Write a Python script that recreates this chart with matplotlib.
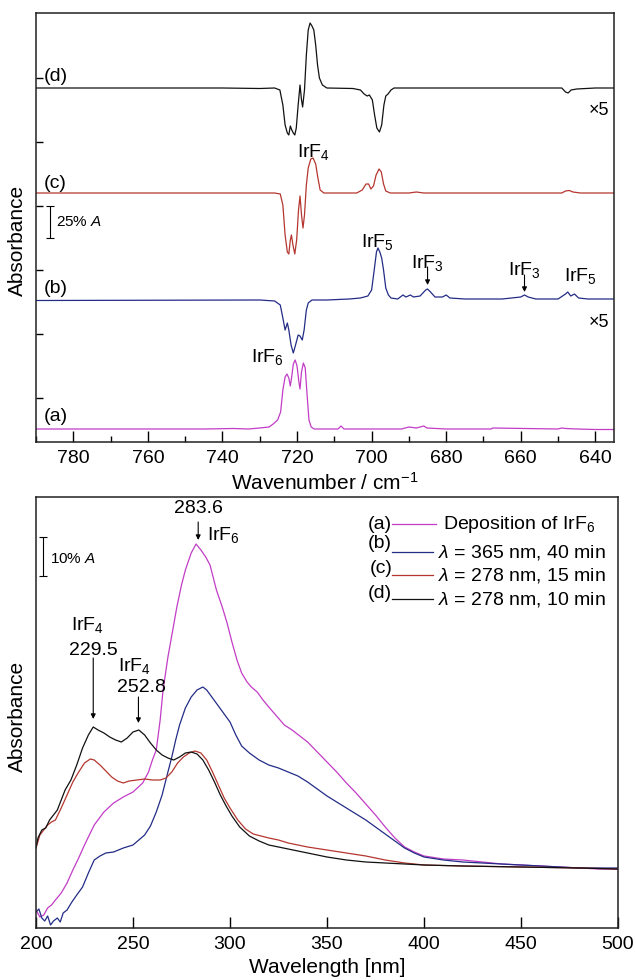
import numpy as np
import matplotlib
matplotlib.use("Agg")
import matplotlib.pyplot as plt
from matplotlib.ticker import MultipleLocator

plt.rcParams['font.family'] = ['Liberation Sans', 'DejaVu Sans']
plt.rcParams['mathtext.fontset'] = 'custom'
plt.rcParams['mathtext.rm'] = 'Liberation Sans'
plt.rcParams['mathtext.it'] = 'Liberation Sans:italic'
plt.rcParams['mathtext.bf'] = 'Liberation Sans:bold'

# ---- IR spectra (top), values relative to each trace baseline, arb. units (32 = 25% A)
wn_a = [790, 745, 737, 733, 730, 727.5, 726.4, 725.2, 724.4, 723.8, 723.2, 722.7, 722.2, 721.8,
        721.4, 721.0, 720.5, 720.0, 719.5, 719.2, 718.8, 718.3, 717.8, 717.3, 716.8, 716.2, 715.4,
        709, 708.2, 707.4, 692, 690, 688, 686, 685.2, 680, 668, 667.5, 650, 649, 648, 645, 640, 635]
ir_a = [0, 0, 0.5, 0, 1, 2, 5, 9, 17, 39, 52, 55, 51, 43,
        53, 65, 69, 63, 47, 40, 57, 66, 61, 34, 9, 2, 0,
        0, 3, 0, 0, 2, 1, 3, 1, 0, 0, 1, 0, 1, 0.5, 0, -0.5, -0.5]

wn_b = [790, 730, 726, 724.5, 723.8, 723.2, 722.6, 722.2, 721.6, 721.0, 720.4, 719.7, 719.2,
        718.6, 718.1, 717.5, 717.0, 716, 712, 706, 703, 701, 700, 699.3, 698.7, 698.3, 697.8,
        697.3, 696.8, 696.2, 695.5, 694.8, 693, 691.6, 690.8, 689.6, 688.8, 687, 685.5, 685,
        684.2, 683, 681, 680, 679, 675, 665, 660, 659, 658, 656, 650, 648, 647.4, 646.6, 645.6,
        644.5, 642, 635]
ir_b = [-0.5, 0, -1, -5, -18, -30, -23, -30, -45, -53, -45, -35, -36,
        -40, -30, -10, -3, 0, 0, 1, 2, 4, 10, 30, 48, 52, 48,
        42, 30, 12, 5, 2, 1, 5, 3, 5, 3, 4, 10, 11,
        8, 3, 3, 5, 2, 1, 1, 3, 5, 3, 1, 1, 6, 8, 4, 6,
        2, 1, 1]

wn_c = [790, 726, 724.5, 723.8, 723.2, 722.6, 722.2, 721.8, 721.5, 721.1, 720.6, 720.1, 719.6,
        719.2, 718.8, 718.4, 718.0, 717.5, 717.0, 716.3, 715.7, 715.0, 714.4, 713.8, 712.8, 704,
        702.5, 701.5, 700.8, 700.2, 699.5, 698.8, 698.0, 697.4, 696.8, 696.2, 695, 690, 688, 686,
        649, 648, 647, 646, 644, 635]
ir_c = [0, 0, -1, -12, -42, -59, -61, -47, -42, -52, -61, -47, -17,
        -3, -22, -35, -22, 8, 25, 34, 35, 29, 15, 3, 0, 0,
        3, 9, 9, 4, 7, 18, 24, 21, 9, 2, 0, 0, 1, 0,
        0, 2, 2.5, 1, 0, 0]

wn_d = [790, 760, 740, 730, 726, 724.6, 723.8, 723.2, 722.6, 722.2, 721.8, 721.4, 721.0, 720.6,
        720.2, 719.7, 719.2, 718.8, 718.5, 718.0, 717.5, 717.0, 716.5, 716.0, 715.5, 715.0, 714.5,
        714.0, 713.2, 712, 705, 703, 702, 701.2, 700.6, 699.8, 699.2, 698.6, 697.9, 697.3, 696.7,
        696.2, 695.6, 694.8, 694, 680, 660, 649, 648, 647.3, 646.5, 645, 640, 635]
ir_d = [0, 0, 0, -0.5, 0, -2, -17, -37, -45, -47, -38, -42, -45, -47,
        -40, -17, 3, -12, -19, -2, 33, 58, 65, 62, 58, 43, 23,
        10, 3, 0, -0.5, -2, -6, -8, -7, -12, -27, -40, -44, -37, -17,
        -8, -6, -2, 0, 0, 0, 0, -4, -5, -2, -1, 0, 0]

ir_offsets = {'a': 13, 'b': 142, 'c': 249, 'd': 354}

# ---- UV/Vis spectra (bottom), arb. units (39 = 10% A)
wl_a = [200, 202, 204, 206, 208, 210, 213, 216, 219, 222, 225, 230, 235, 240, 245, 250, 255, 258,
        260, 262, 264, 265.5, 268, 270.5, 272.6, 275, 277, 280, 282.5, 285, 287.5, 289.7, 293,
        296, 298.5, 301, 303.6, 306, 308.8, 311, 314, 317, 320, 324, 328, 332, 336, 340, 345,
        350, 355, 360, 365, 370, 375, 380, 385, 390, 395, 400, 410, 420, 430, 440, 450, 460,
        470, 480, 490, 500]
uv_a = [18, 11, 13, 20, 23, 28, 35, 45, 58, 70, 83, 103, 116, 125, 131, 136, 145, 156,
        168, 178, 208, 238, 271, 298, 321, 343, 358, 375, 384, 378, 371, 363, 338,
        321, 305, 286, 268, 255, 246, 241, 236, 228, 221, 212, 203, 198, 192, 186, 176,
        166, 156, 145, 135, 124, 113, 101, 90, 81, 76, 72, 69, 68, 66, 64, 63, 62,
        61, 60, 59, 59]

wl_b = [200, 201.5, 203, 204.5, 206, 207.5, 209, 211, 212.5, 214, 216, 218.5, 221, 224, 227,
        230, 233, 236, 240, 245, 250, 253, 256, 259, 262, 265, 268, 270, 272, 274, 277, 280,
        283, 286, 288, 291, 294, 297, 300, 303, 306, 310, 315, 320, 325, 330, 335, 340, 345,
        350, 355, 360, 365, 370, 375, 380, 385, 390, 395, 400, 410, 420, 430, 440, 450, 460,
        470, 480, 490, 500]
uv_b = [16, 19, 10, 7, 12, 3, 7, 10, 6, 15, 18, 26, 33, 41, 55,
        68, 72, 75, 76, 80, 83, 88, 93, 102, 116, 133, 156, 171, 188, 203, 220, 231,
        238, 241, 238, 230, 222, 214, 206, 193, 182, 175, 168, 163, 160, 156, 152, 146, 139,
        132, 126, 120, 114, 108, 101, 94, 87, 80, 75, 71, 68, 66, 65, 64, 63, 62,
        61, 60, 60, 60]

wl_c = [200, 202, 204, 206, 208, 210, 213, 216, 219, 222, 225, 228, 230, 233, 236, 239, 242,
        245, 248, 252, 256, 260, 264, 267, 270, 273, 276, 279, 282, 285, 288, 291, 294, 297,
        300, 304, 308, 312, 316, 320, 325, 330, 340, 350, 360, 370, 380, 390, 400, 420, 450,
        480, 500]
uv_c = [80, 93, 98, 103, 106, 108, 120, 133, 146, 156, 165, 169, 168, 163, 157, 151, 147,
        145, 147, 148, 149, 148, 148, 150, 156, 165, 171, 175, 177, 175, 168, 156, 143, 130,
        120, 108, 99, 94, 92, 90, 88, 85, 81, 78, 75, 72, 68, 65, 63, 62, 61,
        60, 59]

wl_d = [200, 201, 203, 205, 207, 209, 211, 213, 215, 218, 221, 224, 227, 229.5, 232, 235, 238,
        241, 244, 247, 250, 253, 256, 259, 262, 265, 268, 271, 274, 277, 280, 283, 286, 289,
        292, 295, 298, 301, 305, 310, 315, 320, 330, 340, 350, 360, 370, 380, 390, 400, 420,
        450, 480, 500]
uv_d = [80, 90, 98, 100, 108, 113, 118, 128, 138, 148, 163, 180, 193, 201, 198, 195, 191,
        188, 186, 190, 196, 198, 193, 185, 178, 173, 170, 168, 171, 175, 176, 174, 168, 158,
        146, 133, 122, 112, 101, 92, 87, 83, 79, 75, 71, 68, 66, 65, 64, 63, 62,
        61, 60, 59]

col = {'a': '#c23cc6', 'b': '#232c86', 'c': '#b5362f', 'd': '#111111'}
legend_text = {'a': 'Deposition of IrF$_6$',
               'b': r'$\lambda$ = 365 nm, 40 min',
               'c': r'$\lambda$ = 278 nm, 15 min',
               'd': r'$\lambda$ = 278 nm, 10 min'}

W, H = 636, 980
fig = plt.figure(figsize=(W / 100, H / 100), dpi=100)
ax1 = fig.add_axes([36 / W, 1 - 442 / H, 578 / W, 429 / H])
ax2 = fig.add_axes([36 / W, 1 - 928 / H, 582 / W, 431 / H])

for ax in (ax1, ax2):
    for s in ax.spines.values():
        s.set_linewidth(1.1)
        s.set_color('#222222')

# ---------------- top panel
for key, wn, v in (('d', wn_d, ir_d), ('c', wn_c, ir_c), ('b', wn_b, ir_b), ('a', wn_a, ir_a)):
    ax1.plot(wn, np.array(v) + ir_offsets[key], color=col[key], lw=0.9)

ax1.set_xlim(790, 635)
ax1.set_ylim(0, 429)
ax1.xaxis.set_major_locator(MultipleLocator(20))
ax1.xaxis.set_minor_locator(MultipleLocator(10))
ax1.set_yticks(44 + 64 * np.arange(6))
ax1.tick_params(axis='x', which='major', direction='in', length=8, width=1, labelsize=14, pad=6)
ax1.tick_params(axis='x', which='minor', direction='in', length=4, width=1)
ax1.tick_params(axis='y', direction='in', length=5, width=1, labelleft=False)
ax1.set_xlabel('Wavenumber / cm$^{-1}$', fontsize=15, labelpad=3)
ax1.set_ylabel('Absorbance', fontsize=15)
ax1.yaxis.set_label_coords(-0.016, 0.47)

fs = 14
for key, y in (('d', 366), ('c', 259), ('b', 154), ('a', 26)):
    ax1.text(788, y, '(%s)' % key, fontsize=fs, ha='left', va='center')

ax1.text(715.7, 290, 'IrF$_4$', fontsize=fs, ha='center', va='center')
ax1.text(698.3, 200, 'IrF$_5$', fontsize=fs, ha='center', va='center')
ax1.text(728, 85, 'IrF$_6$', fontsize=fs, ha='center', va='center')
ax1.text(685, 179, 'IrF$_3$', fontsize=fs, ha='center', va='center')
ax1.text(659, 172, 'IrF$_3$', fontsize=fs, ha='center', va='center')
ax1.text(644, 166, 'IrF$_5$', fontsize=fs, ha='center', va='center')
arr = dict(arrowstyle='-|>', color='k', lw=0.8, mutation_scale=7, shrinkA=0, shrinkB=0)
ax1.annotate('', xy=(685, 157), xytext=(685, 175), arrowprops=arr)
ax1.annotate('', xy=(659, 150), xytext=(659, 167), arrowprops=arr)
ax1.text(636.3, 332, '×5', fontsize=13, ha='right', va='center')
ax1.text(636.3, 120, '×5', fontsize=13, ha='right', va='center')

# 25% A scale bar
ax1.errorbar([786.2], [220], yerr=[16], color='k', lw=0.8, capsize=3, capthick=0.8)
ax1.text(784.6, 220, '25% $A$', fontsize=11, ha='left', va='center')

# ---------------- bottom panel
for key, wl, v in (('a', wl_a, uv_a), ('b', wl_b, uv_b), ('c', wl_c, uv_c), ('d', wl_d, uv_d)):
    ax2.plot(wl, v, color=col[key], lw=0.9)

ax2.set_xlim(200, 500)
ax2.set_ylim(0, 431)
ax2.xaxis.set_major_locator(MultipleLocator(50))
ax2.set_yticks([])
ax2.tick_params(axis='x', direction='in', length=8, width=1, labelsize=14, pad=6)
ax2.set_xlabel('Wavelength [nm]', fontsize=15, labelpad=3)
ax2.set_ylabel('Absorbance', fontsize=15)
ax2.yaxis.set_label_coords(-0.016, 0.49)

ax2.text(283.5, 420, '283.6', fontsize=fs, ha='center', va='center')
ax2.annotate('', xy=(283.6, 388), xytext=(283.6, 406), arrowprops=arr)
ax2.text(288.1, 393, 'IrF$_6$', fontsize=fs, ha='left', va='center')
ax2.text(226.8, 303, 'IrF$_4$', fontsize=fs, ha='center', va='center')
ax2.text(229.4, 278, '229.5', fontsize=fs, ha='center', va='center')
ax2.annotate('', xy=(229.5, 209), xytext=(229.5, 270), arrowprops=arr)
ax2.text(251, 262, 'IrF$_4$', fontsize=fs, ha='center', va='center')
ax2.text(254.6, 241, '252.8', fontsize=fs, ha='center', va='center')
ax2.annotate('', xy=(252.8, 205), xytext=(252.8, 231), arrowprops=arr)

ax2.errorbar([203.6], [371.5], yerr=[19.5], color='k', lw=0.8, capsize=3, capthick=0.8)
ax2.text(207.2, 369, '10% $A$', fontsize=11, ha='left', va='center')

# legend, drawn row by row so the (a)...(d) tags sit left of the line keys
rows = {'a': (0.937, 0.937, 0.699, 0.687), 'b': (0.893, 0.872, 0.691, 0.682),
        'c': (0.835, 0.819, 0.691, 0.682), 'd': (0.777, 0.763, 0.691, 0.682)}
for key, (ytag, yline, xtext, xend) in rows.items():
    ax2.text(0.612, ytag, '(%s)' % key, transform=ax2.transAxes, fontsize=fs, ha='right', va='center')
    ax2.plot([0.612, xend], [yline, yline], transform=ax2.transAxes, color=col[key], lw=0.9)
    ax2.text(xtext, yline, legend_text[key], transform=ax2.transAxes, fontsize=fs,
             ha='left', va='center')

fig.savefig('out.png', dpi=100)
